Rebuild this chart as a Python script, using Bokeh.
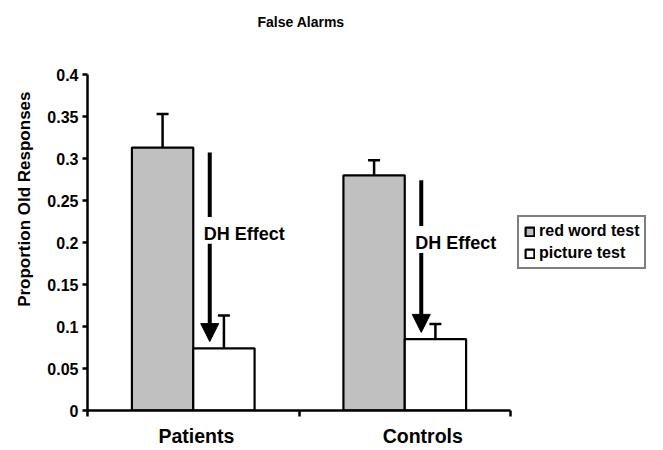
from bokeh.plotting import figure
from bokeh.models import (ColumnDataSource, Range1d, FixedTicker, Whisker, TeeHead,
                          Arrow, NormalHead, Legend, LegendItem, Title)
from bokeh.core.properties import value
from bokeh.embed import file_html
from bokeh.resources import INLINE

# ---- data ----
groups = ["Patients", "Controls"]
red_word = [0.313, 0.280]
red_word_err = [0.040, 0.018]
picture = [0.074, 0.085]
picture_err = [0.039, 0.018]
series_labels = ["red word test", "picture test"]
y_ticks = [0, 0.05, 0.1, 0.15, 0.2, 0.25, 0.3, 0.35, 0.4]
y_tick_labels = ["0", "0.05", "0.1", "0.15", "0.2", "0.25", "0.3", "0.35", "0.4"]
annotation_text = "DH Effect"
y_title = "Proportion Old Responses"
chart_title = "False Alarms"

FONT = "Liberation Sans"
BAR_W = 0.29
AXIS_PX = 423          # pixel length of the category axis
FRAME_PX = 568         # frame extends right to hold the legend
centers = [i + 0.5 for i in range(len(groups))]
x_red = [c - BAR_W / 2 for c in centers]
x_pic = [c + BAR_W / 2 for c in centers]

p = figure(frame_width=FRAME_PX, frame_height=336, output_backend="svg",
           toolbar_location=None,
           x_range=Range1d(0, len(groups) * FRAME_PX / AXIS_PX), y_range=Range1d(0, 0.4),
           min_border_left=87, min_border_top=73, min_border_bottom=28,
           min_border_right=2)
p.outline_line_color = None
p.xgrid.visible = False
p.ygrid.visible = False

src_red = ColumnDataSource(dict(x=x_red, top=red_word,
                                lo=[v - e for v, e in zip(red_word, red_word_err)],
                                hi=[v + e for v, e in zip(red_word, red_word_err)]))
src_pic = ColumnDataSource(dict(x=x_pic, top=picture,
                                lo=[v - e for v, e in zip(picture, picture_err)],
                                hi=[v + e for v, e in zip(picture, picture_err)]))

r_red = p.vbar(x="x", top="top", width=BAR_W, bottom=0, source=src_red,
               fill_color="#c0c0c0", line_color="black", line_width=2.2)
r_pic = p.vbar(x="x", top="top", width=BAR_W, bottom=0, source=src_pic,
               fill_color="white", line_color="black", line_width=2.2)

for src in (src_red, src_pic):
    w = Whisker(base="x", lower="lo", upper="hi", source=src,
                line_color="black", line_width=2.5,
                upper_head=TeeHead(size=12, line_width=2.5, line_color="black"),
                lower_head=TeeHead(size=12, line_width=2.5, line_color="black"))
    p.add_layout(w)

# DH effect arrows
arrow_dx = 0.078
text_dx = 0.05
for c, r, pc in zip(centers, red_word, picture):
    ty = 0.5 * (r + pc) + 0.017
    ax = c + arrow_dx
    p.segment(x0=[ax], y0=[r - 0.006], x1=[ax], y1=[ty + 0.02],
              line_color="black", line_width=4)
    p.add_layout(Arrow(x_start=ax, y_start=ty - 0.012, x_end=ax, y_end=pc + 0.008,
                       line_color="black", line_width=4,
                       end=NormalHead(size=18, fill_color="black", line_color="black")))
    p.text(x=[c + text_dx], y=[ty], text=[annotation_text],
           text_font=value(FONT), text_font_style="bold", text_font_size="18px",
           text_align="left", text_baseline="middle", text_color="black")

# axes
yax = p.yaxis[0]
yax.ticker = FixedTicker(ticks=y_ticks)
yax.major_label_overrides = {t: l for t, l in zip(y_ticks, y_tick_labels)}
yax.major_label_text_font = FONT
yax.major_label_text_font_style = "bold"
yax.major_label_text_font_size = "16px"
yax.major_label_text_color = "black"
yax.major_label_standoff = 4
yax.axis_line_width = 2.5
yax.major_tick_line_width = 2.5
yax.major_tick_out = 5
yax.major_tick_in = 0
yax.minor_tick_line_color = None

ylab = Title(text=y_title, align="right", offset=17, standoff=22,
             text_font=FONT, text_font_style="bold", text_font_size="17px",
             text_color="black")
p.add_layout(ylab, "left")

cat_label_pos = [0.515, 1.585]
xax = p.xaxis[0]
xax.bounds = (0, len(groups))
xax.ticker = FixedTicker(ticks=cat_label_pos, minor_ticks=list(range(len(groups) + 1)))
xax.major_label_overrides = {t: g for t, g in zip(cat_label_pos, groups)}
xax.major_label_text_font = FONT
xax.major_label_text_font_style = "bold"
xax.major_label_text_font_size = "19.5px"
xax.major_label_text_color = "black"
xax.major_label_standoff = 8
xax.axis_line_width = 2.5
xax.major_tick_line_color = None
xax.minor_tick_line_width = 2.5
xax.minor_tick_out = 6
xax.minor_tick_in = 0

# title (outermost) plus a blank spacer title between it and the frame
p.title.text = chart_title
p.title.text_font = FONT
p.title.text_font_style = "bold"
p.title.text_font_size = "14px"
p.title.text_color = "black"
p.title.align = "left"
p.title.offset = 170
p.title.standoff = 23
spacer = Title(text=" ", text_font_size="14px", standoff=15)
p.add_layout(spacer, "above")

legend = Legend(items=[LegendItem(label=series_labels[0], renderers=[r_red]),
                       LegendItem(label=series_labels[1], renderers=[r_pic])],
                location=(430, 141), orientation="vertical")
legend.border_line_color = "black"
legend.border_line_width = 2.5
legend.label_text_font = FONT
legend.label_text_font_style = "bold"
legend.label_text_font_size = "16px"
legend.label_text_color = "black"
legend.glyph_width = 11
legend.glyph_height = 11
legend.padding = 5
legend.spacing = 4
legend.label_standoff = 4
legend.margin = 0
legend.label_height = 16
p.add_layout(legend)

open("out.html", "w").write(file_html(p, INLINE))
